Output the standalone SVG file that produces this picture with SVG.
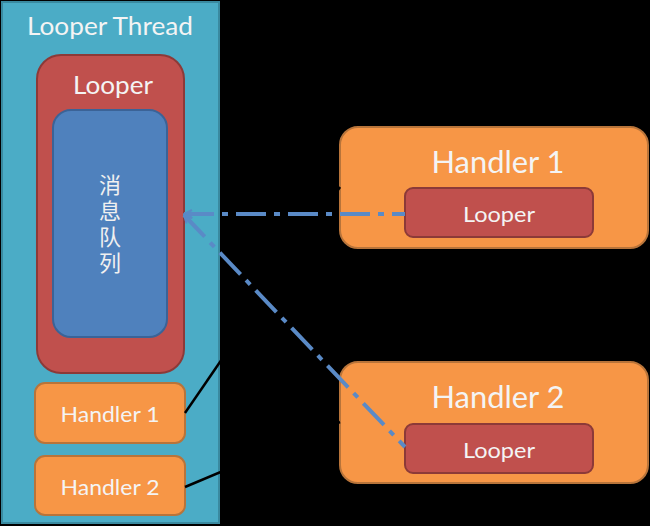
<svg xmlns="http://www.w3.org/2000/svg" width="650" height="526" viewBox="0 0 650 526">
<defs>
<style>
.t{font-family:Lato,"Open Sans","Noto Sans CJK SC",sans-serif;fill:#f4f4f4;text-anchor:middle}
.cjk{font-family:"Noto Sans CJK SC",sans-serif;fill:#f0f0f0;font-size:22px;writing-mode:vertical-rl;letter-spacing:4px}
.teal{fill:#4bacc6;stroke:#3a8aa0;stroke-width:2}
.red{fill:#c0504d;stroke:#8c3a38;stroke-width:2}
.blue{fill:#4f81bd;stroke:#3b6397;stroke-width:2}
.orange{fill:#f79646;stroke:#b8743a;stroke-width:2}
.dash{fill:none;stroke:#5a8ac6;stroke-width:4;stroke-dasharray:30 8 6 8}
.blk{fill:none;stroke:#000;stroke-width:2.5}
</style>
<marker id="arr" viewBox="0 0 10 10" refX="9" refY="5" markerWidth="10" markerHeight="10" markerUnits="userSpaceOnUse" orient="auto-start-reverse">
<path d="M1,1 L9,5 L1,9" fill="none" stroke="#5a8ac6" stroke-width="2"/>
</marker>
</defs>
<rect x="0" y="0" width="650" height="526" fill="#000"/>
<g id="looper-thread">
<rect class="teal" x="2" y="2" width="217" height="521"/>
<text class="t" x="110" y="35" font-size="25" textLength="166" lengthAdjust="spacingAndGlyphs">Looper Thread</text>
</g>
<g id="looper">
<rect class="red" x="37" y="55" width="147" height="318" rx="24"/>
<text class="t" x="113" y="94" font-size="25" textLength="80" lengthAdjust="spacingAndGlyphs">Looper</text>
</g>
<g id="message-queue">
<rect class="blue" x="53" y="110" width="114" height="227" rx="18"/>
<text class="cjk" x="110" y="174">消息队列</text>
</g>
<g id="handler1-left">
<rect class="orange" x="35" y="383" width="150" height="60" rx="10"/>
<text class="t" x="110" y="422" font-size="22" textLength="99" lengthAdjust="spacingAndGlyphs">Handler 1</text>
</g>
<g id="handler2-left">
<rect class="orange" x="35" y="456" width="150" height="59" rx="10"/>
<text class="t" x="110" y="495" font-size="22" textLength="99" lengthAdjust="spacingAndGlyphs">Handler 2</text>
</g>
<g id="handler1-right">
<rect class="orange" x="340" y="127" width="308" height="121" rx="18"/>
<text class="t" x="498" y="173" font-size="30" textLength="133" lengthAdjust="spacingAndGlyphs">Handler 1</text>
<rect class="red" x="405" y="188" width="188" height="49" rx="8"/>
<text class="t" x="499" y="222" font-size="22" textLength="72" lengthAdjust="spacingAndGlyphs">Looper</text>
</g>
<g id="handler2-right">
<rect class="orange" x="340" y="362" width="308" height="121" rx="18"/>
<text class="t" x="498" y="408" font-size="30" textLength="133" lengthAdjust="spacingAndGlyphs">Handler 2</text>
<rect class="red" x="405" y="424" width="188" height="49" rx="8"/>
<text class="t" x="499" y="458" font-size="22" textLength="72" lengthAdjust="spacingAndGlyphs">Looper</text>
</g>
<g id="connectors">
<line class="blk" x1="185" y1="413" x2="340" y2="187"/>
<line class="blk" x1="185" y1="487" x2="340" y2="422"/>
<path class="dash" d="M184,214 L405,214" marker-start="url(#arr)"/>
<path class="dash" d="M184,215 L405,447" marker-start="url(#arr)"/>
</g>
</svg>
